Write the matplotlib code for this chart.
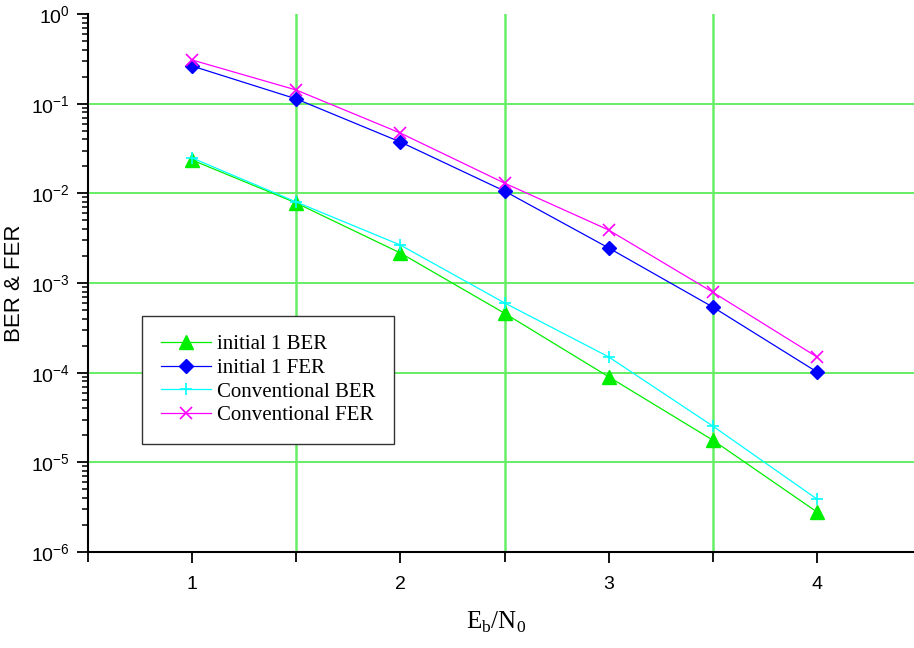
import numpy as np
import matplotlib
matplotlib.use("Agg")
import matplotlib.pyplot as plt
from matplotlib.ticker import FixedLocator, LogLocator, MultipleLocator, NullFormatter

# dane
ebn0 = [1.0, 1.5, 2.0, 2.5, 3.0, 3.5, 4.0]
init_ber = [2.35e-2, 7.8e-3, 2.16e-3, 4.6e-4, 9.0e-5, 1.77e-5, 2.8e-6]
init_fer = [2.63e-1, 1.13e-1, 3.74e-2, 1.06e-2, 2.46e-3, 5.4e-4, 1.02e-4]
conv_ber = [2.48e-2, 8.0e-3, 2.65e-3, 6.0e-4, 1.5e-4, 2.54e-5, 3.9e-6]
conv_fer = [3.07e-1, 1.42e-1, 4.7e-2, 1.3e-2, 3.9e-3, 7.9e-4, 1.5e-4]

etykiety = ["initial 1 BER", "initial 1 FER", "Conventional BER", "Conventional FER"]

fig = plt.figure(figsize=(9.14, 6.48), dpi=100)
# os x wychodzi poza prawa krawedz obrazka (jak w oryginale)
ax = fig.add_axes([88 / 914, 96 / 648, 833 / 914, 538 / 648])

grid_kol = "#66ee66"
for d in 10.0 ** np.arange(-5, 0):
    ax.axhline(d, color=grid_kol, lw=1.4, zorder=0)
for xv in [1.5, 2.5, 3.5]:
    ax.axvline(xv, color=grid_kol, lw=1.8, zorder=0)

ax.plot(ebn0, init_ber, "-^", color="#00ee00", lw=0.9, ms=10, label=etykiety[0])
ax.plot(ebn0, init_fer, "-D", color="#0000ff", lw=0.9, ms=7.5, label=etykiety[1])
ax.plot(ebn0, conv_ber, "-+", color="#00ffff", lw=0.9, ms=9, mew=1.2, label=etykiety[2])
ax.plot(ebn0, conv_fer, "-x", color="#ff00ff", lw=0.9, ms=9, mew=1.2, label=etykiety[3])

ax.set_yscale("log")
ax.set_ylim(1e-6, 1)
ax.set_xlim(0.5, 4.5)

ax.spines["top"].set_visible(False)
ax.spines["right"].set_visible(False)
ax.spines["left"].set_linewidth(1.5)
ax.spines["bottom"].set_linewidth(1.5)

ax.xaxis.set_major_locator(FixedLocator([1, 2, 3, 4]))
ax.xaxis.set_minor_locator(MultipleLocator(0.5))
ax.yaxis.set_major_locator(FixedLocator(10.0 ** np.arange(-6, 1)))
ax.yaxis.set_minor_locator(LogLocator(base=10, subs=np.arange(2, 10), numticks=10))
ax.yaxis.set_minor_formatter(NullFormatter())

ax.tick_params(axis="both", which="major", direction="out", length=8, width=1.3,
               labelsize=14, color="black")
ax.tick_params(axis="x", which="minor", direction="out", length=7, width=1.3)
ax.tick_params(axis="y", which="minor", direction="out", length=4.5, width=1.1)
ax.tick_params(axis="x", which="major", pad=9)
ax.tick_params(axis="y", which="major", pad=5)
for lab in ax.get_xticklabels() + ax.get_yticklabels():
    lab.set_fontfamily("Liberation Sans")

ax.set_ylabel("BER & FER", fontsize=16, fontfamily="Liberation Sans", labelpad=4)
ax.set_xlabel(r"E$_\mathregular{b}$/N$_\mathregular{0}$", fontsize=18,
              fontfamily="Liberation Serif")
ax.xaxis.set_label_coords(0.49, -0.108)

leg = ax.legend(loc="upper left", bbox_to_anchor=(0.065, 0.439), borderaxespad=0,
                fancybox=False, edgecolor="#333333", framealpha=1,
                prop={"family": "Liberation Serif", "size": 15},
                handlelength=2.4, labelspacing=0.2, borderpad=0.9, handletextpad=0.3)
leg.get_frame().set_linewidth(1.0)

plt.savefig("out.png", dpi=100)
